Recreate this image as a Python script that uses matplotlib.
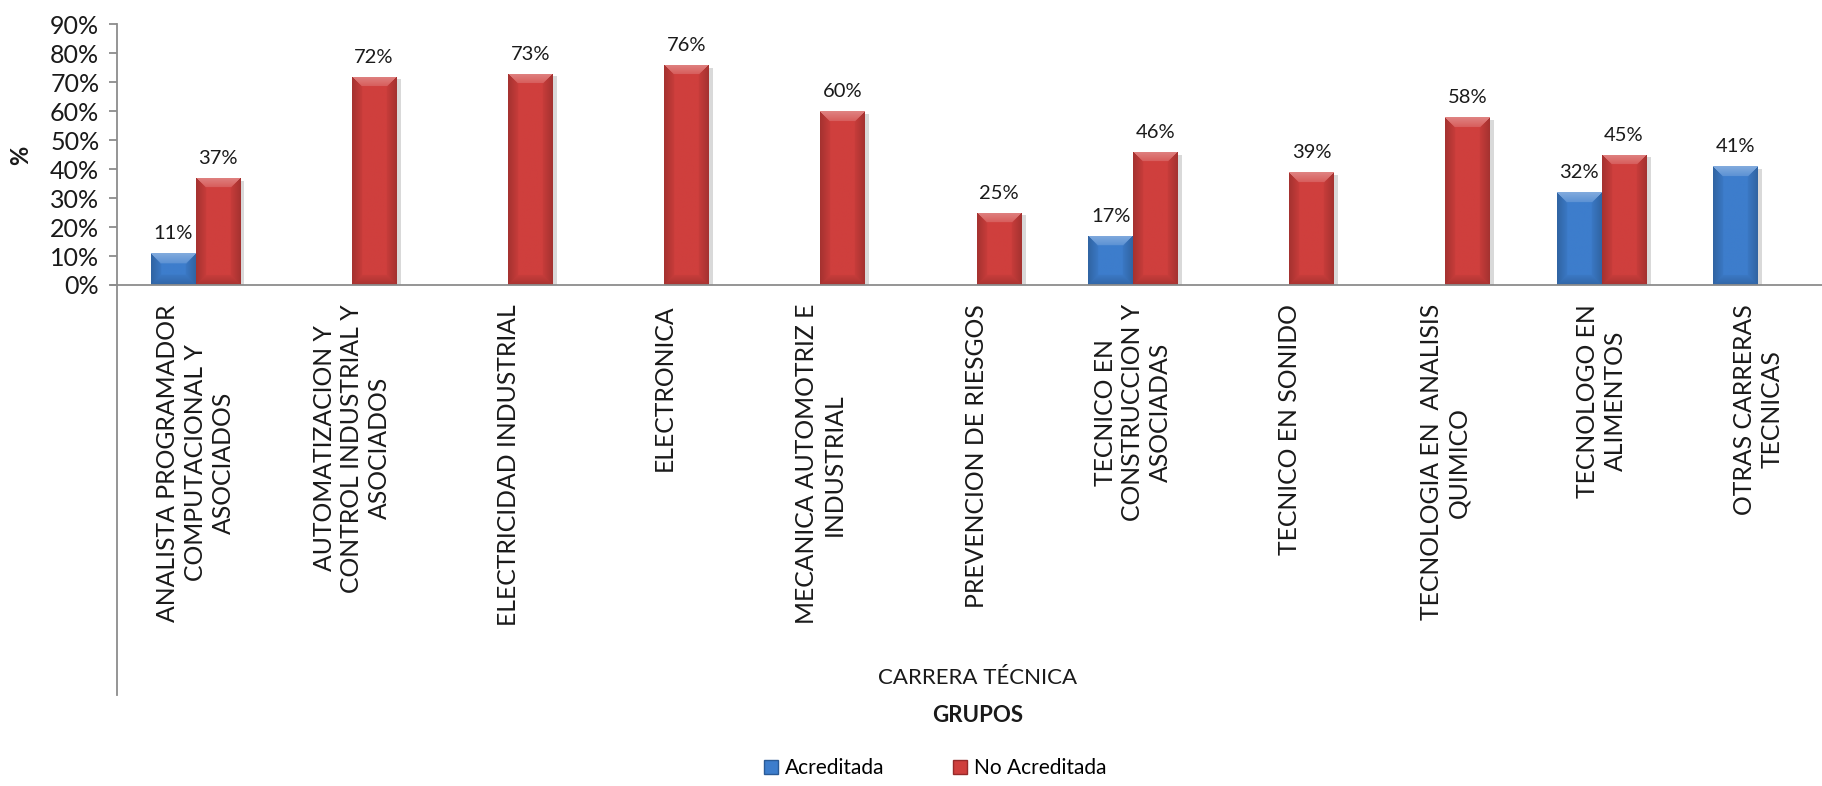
import matplotlib
matplotlib.use("Agg")
import matplotlib.pyplot as plt
import matplotlib.patheffects as pe
import numpy as np
from matplotlib.colors import to_rgb

plt.rcParams['font.family'] = ['Lato', 'DejaVu Sans']

categorias = [
    "ANALISTA PROGRAMADOR\nCOMPUTACIONAL Y\nASOCIADOS",
    "AUTOMATIZACION Y\nCONTROL INDUSTRIAL Y\nASOCIADOS",
    "ELECTRICIDAD INDUSTRIAL",
    "ELECTRONICA",
    "MECANICA AUTOMOTRIZ E\nINDUSTRIAL",
    "PREVENCION DE RIESGOS",
    "TECNICO EN\nCONSTRUCCION Y\nASOCIADAS",
    "TECNICO EN SONIDO",
    "TECNOLOGIA EN  ANALISIS\nQUIMICO",
    "TECNOLOGO EN\nALIMENTOS",
    "OTRAS CARRERAS\nTECNICAS",
]
acreditada = [11, None, None, None, None, None, 17, None, None, 32, 41]
no_acreditada = [37, 72, 73, 76, 60, 25, 46, 39, 58, 45, None]
y_ticks = [0, 10, 20, 30, 40, 50, 60, 70, 80, 90]

AZUL = "#3d7dcc"
ROJO = "#cf3f3d"

W, H, DPI = 1822, 786, 100
fig = plt.figure(figsize=(W / DPI, H / DPI), dpi=DPI)
ax_left, ax_bottom, ax_top = 117.4 / W, (H - 285) / H, (H - 24.4) / H
ax = fig.add_axes([ax_left, ax_bottom, 1 - ax_left, ax_top - ax_bottom])

bw = 0.286
x = np.arange(len(categorias))


def bevel_image(color, wpx, hpx, d=10):
    # shaded block, like excel's bevel effect
    base = np.array(to_rgb(color))
    wpx, hpx = max(int(wpx), 2), max(int(hpx), 2)
    X, Y = np.meshgrid(np.arange(wpx), np.arange(hpx))
    dl, dr, dt, db = X, wpx - 1 - X, Y, hpx - 1 - Y
    m = np.minimum(np.minimum(dl, dr), np.minimum(dt, db))
    t = np.clip(m / d, 0, 1)
    img = np.tile(base, (hpx, wpx, 1))
    top = (dt == m) & (m < d)
    bottom = (db == m) & (m < d) & ~top
    side = (m < d) & ~top & ~bottom
    mix = (0.35 - 0.2 * t[top])[:, None]
    img[top] = base + (1 - base) * mix
    img[side] = base * (0.80 + 0.17 * t[side])[:, None]
    img[bottom] = base * (0.82 + 0.15 * t[bottom])[:, None]
    return np.clip(img, 0, 1)


def draw_series(vals, offset, color):
    px_y = (285 - 24.4) / 90
    px_x = 156.3
    for i, v in enumerate(vals):
        if v is None:
            continue
        r = ax.bar(x[i] + offset, v, bw, color=color, edgecolor="none", zorder=2)[0]
        r.set_path_effects([pe.SimplePatchShadow(offset=(3, -2), alpha=0.22, shadow_rgbFace="#555555"),
                            pe.Normal()])
        x0, y0 = r.get_xy()
        im = ax.imshow(bevel_image(color, r.get_width() * px_x, v * px_y),
                       extent=[x0, x0 + r.get_width(), y0, y0 + v],
                       aspect="auto", zorder=3, interpolation="bilinear")
        im.set_clip_path(r)
        ax.text(x[i] + offset, v + 3.8, "%d%%" % v, ha="center", va="bottom",
                fontsize=14.5, color="#1a1a1a", zorder=4)


draw_series(acreditada, -bw / 2, AZUL)
draw_series(no_acreditada, bw / 2, ROJO)
ax.set_xlim(-0.5, 10.41)
ax.set_ylim(0, 90)

for s in ["top", "right", "left"]:
    ax.spines[s].set_visible(False)
ax.spines["bottom"].set_color("#8c8c8c")
ax.spines["bottom"].set_linewidth(1.3)
ax.spines["bottom"].set_zorder(6)
ax.set_yticks(y_ticks)
ax.set_yticklabels(["%d%%" % t for t in y_ticks], fontsize=18, color="#1a1a1a")
ax.tick_params(axis="y", length=6, color="#8c8c8c", width=1.3, pad=7)
ax.set_xticks([])

# vertical axis line running down past the category labels
ax.plot([0, 0], [1, -(695 - 285) / (285 - 24.4)], transform=ax.transAxes,
        color="#8c8c8c", lw=1.3, clip_on=False, zorder=5)
ax.plot([-6 / (W - 117.4), 0], [0, 0], transform=ax.transAxes,
        color="#8c8c8c", lw=1.3, clip_on=False)

for i, lab in enumerate(categorias):
    ax.text(x[i], -19 / (285 - 24.4), lab, transform=ax.get_xaxis_transform(),
            rotation=90, ha="center", va="top", multialignment="center",
            fontsize=17.8, linespacing=1.25, color="#1a1a1a")

fig.text(21 / W, 1 - 155 / H, "%", rotation=90, ha="center", va="center",
         fontsize=17, fontweight="bold", color="#1a1a1a")
fig.text(978 / W, 1 - 678 / H, "CARRERA TÉCNICA", ha="center", va="center",
         fontsize=16, color="#1a1a1a")
fig.text(978 / W, 1 - 716 / H, "GRUPOS", ha="center", va="center",
         fontsize=16, fontweight="bold", color="#1a1a1a")

h1 = plt.Rectangle((0, 0), 1, 1, facecolor=AZUL, edgecolor="#2a5a96")
h2 = plt.Rectangle((0, 0), 1, 1, facecolor=ROJO, edgecolor="#962a2a")
fig.legend([h1, h2], ["Acreditada", "No Acreditada"], loc="center left",
           bbox_to_anchor=(764 / W, 1 - 768 / H), ncol=2, frameon=False,
           fontsize=15, handlelength=0.65, handleheight=0.65, handletextpad=0.35,
           columnspacing=3.3, borderpad=0, borderaxespad=0)

fig.savefig("out.png", dpi=DPI)
